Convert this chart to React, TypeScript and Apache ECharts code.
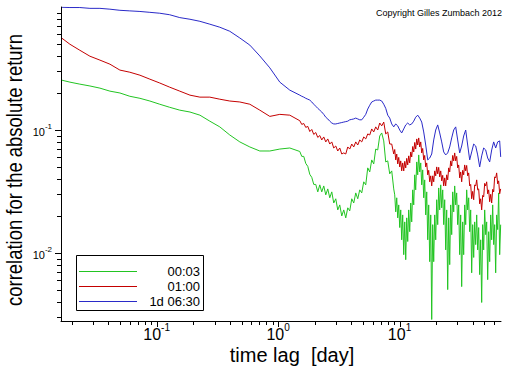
import React, { useEffect, useRef } from 'react';
import * as echarts from 'echarts';

// time lag [day]
const LAGS_COARSE = [
  0.0166, 0.0193, 0.0233, 0.0282, 0.0341, 0.0412, 0.0498, 0.0601, 0.0728, 0.0879,
  0.106, 0.128, 0.155, 0.188, 0.227, 0.274, 0.331, 0.4, 0.484, 0.585,
  0.707, 0.855, 1.033, 1.248,
];
const LAGS_FINE = [
  1.509, 1.567, 1.627, 1.69, 1.756, 1.824, 1.894, 1.967, 2.043, 2.122,
  2.204, 2.289, 2.377, 2.47, 2.565, 2.664, 2.767, 2.873, 2.985, 3.1,
  3.22, 3.344, 3.473, 3.608, 3.747, 3.892, 4.042, 4.198, 4.36, 4.529,
  4.703, 4.885, 5.074, 5.27, 5.473, 5.685, 5.904, 6.132, 6.369, 6.615,
  6.871, 7.136, 7.413, 7.699, 7.997, 8.305, 8.627, 8.96, 9.305, 9.665,
  10.04, 10.42, 10.83, 11.25, 11.68, 12.13, 12.6, 13.09, 13.59, 14.12,
  14.67, 15.23, 15.82, 16.43, 17.07, 17.73, 18.41, 19.12, 19.86, 20.63,
  21.43, 22.25, 23.11, 24.0, 24.93, 25.9, 26.89, 27.93, 29.01, 30.13,
  31.3, 32.5, 33.76, 35.07, 36.42, 37.83, 39.29, 40.81, 42.39, 44.02,
  45.72, 47.49, 49.32, 51.23, 53.21, 55.26, 57.4, 59.62, 61.92, 64.31,
  66.8, 68.1,
];
// denser sampling of the noisy tail (lag > 9 days)
const LAGS_DENSE = [
  9.13, 9.305, 9.484, 9.665, 9.85, 10.04, 10.23, 10.42, 10.62, 10.83,
  11.04, 11.25, 11.46, 11.68, 11.9, 12.13, 12.37, 12.6, 12.84, 13.09,
  13.34, 13.59, 13.86, 14.12, 14.39, 14.67, 14.95, 15.23, 15.52, 15.82,
  16.12, 16.43, 16.75, 17.07, 17.39, 17.73, 18.07, 18.41, 18.76, 19.12,
  19.49, 19.86, 20.24, 20.63, 21.02, 21.43, 21.84, 22.25, 22.68, 23.11,
  23.55, 24.0, 24.46, 24.93, 25.41, 25.9, 26.39, 26.89, 27.41, 27.93,
  28.46, 29.01, 29.56, 30.13, 30.71, 31.3, 31.89, 32.5, 33.12, 33.76,
  34.4, 35.07, 35.73, 36.42, 37.12, 37.83, 38.55, 39.29, 40.04, 40.81,
  41.59, 42.39, 43.2, 44.02, 44.86, 45.72, 46.6, 47.49, 48.4, 49.32,
  50.27, 51.23, 52.21, 53.21, 54.22, 55.26, 56.32, 57.4, 58.5, 59.62,
  60.75, 61.92, 63.1, 64.31, 65.54, 66.8, 68.07,
];
const LAGS_BLUE = LAGS_COARSE.concat(LAGS_FINE);
const LAGS_NOISY = LAGS_COARSE.concat(LAGS_FINE.slice(0, 48), LAGS_DENSE);

// correlation for the absolute return, series "00:03" (green)
const CORR_0003 = [
  0.254, 0.245, 0.236, 0.228, 0.219, 0.207, 0.2, 0.188, 0.181, 0.172,
  0.162, 0.153, 0.145, 0.14, 0.132, 0.118, 0.106, 0.0911, 0.08, 0.0728,
  0.0675, 0.0675, 0.07, 0.0714,
  0.0669, 0.061, 0.061, 0.0535, 0.0506, 0.0436, 0.0412, 0.0361, 0.0361, 0.0314,
  0.0358, 0.0314, 0.0351, 0.0297, 0.0332, 0.0281, 0.0314, 0.0255, 0.0276, 0.0224,
  0.0246, 0.02, 0.0224, 0.0193, 0.0233, 0.022, 0.0276, 0.0255, 0.0308, 0.0276,
  0.0326, 0.0308, 0.0379, 0.0358, 0.0492, 0.0456, 0.0571, 0.053, 0.07, 0.0688,
  0.0894, 0.0946, 0.0815, 0.055, 0.0561, 0.044, 0.0465, 0.0332,
  0.0297, 0.0216, 0.0281, 0.0193, 0.0246, 0.0161, 0.0224, 0.0128, 0.0204, 0.00969,
  0.0179, 0.00882, 0.0193, 0.0124, 0.0224, 0.0149, 0.0255, 0.0179, 0.0326, 0.0246,
  0.0432, 0.0326, 0.055, 0.0432, 0.0627, 0.0456, 0.054, 0.0358, 0.0474, 0.0281,
  0.0393, 0.0204, 0.0314, 0.0128, 0.0246, 0.0085, 0.0204, 0.00288, 0.017, 0.0085,
  0.0204, 0.0128, 0.0271, 0.017, 0.0338, 0.0224, 0.0358, 0.0233, 0.0326, 0.017,
  0.0271, 0.0106, 0.0224, 0.00504, 0.0193, 0.00804, 0.0246, 0.0141, 0.0314, 0.0216,
  0.0351, 0.0246, 0.0308, 0.017, 0.0246, 0.00969, 0.0204, 0.00533, 0.0179, 0.00969,
  0.0246, 0.017, 0.0326, 0.0224, 0.0281, 0.0149, 0.0224, 0.0069, 0.017, 0.0092,
  0.0179, 0.0117, 0.0204, 0.0106, 0.0161, 0.00667, 0.0128, 0.00396, 0.017, 0.0106,
  0.0224, 0.0141, 0.0179, 0.00607, 0.0149, 0.0085, 0.0204, 0.0128, 0.0246, 0.0117,
  0.017, 0.0069, 0.0204, 0.0155, 0.0308, 0.00969, 0.017,
];

// series "01:00" (red)
const CORR_0100 = [
  0.557, 0.498, 0.445, 0.398, 0.37, 0.343, 0.307, 0.295, 0.279, 0.259,
  0.241, 0.223, 0.207, 0.192, 0.185, 0.185, 0.178, 0.172, 0.169, 0.162,
  0.145, 0.129, 0.134, 0.132,
  0.119, 0.111, 0.113, 0.105, 0.107, 0.0972, 0.101, 0.092, 0.0954, 0.087,
  0.0902, 0.083, 0.0878, 0.08, 0.0846, 0.0769, 0.08, 0.0714, 0.0741, 0.0675,
  0.0714, 0.0638, 0.0651, 0.0638, 0.0728, 0.07, 0.0769, 0.0728, 0.08, 0.0755,
  0.083, 0.08, 0.0878, 0.0846, 0.0929, 0.0911, 0.102, 0.0964, 0.106, 0.1,
  0.114, 0.108, 0.116, 0.0929, 0.0964, 0.0769, 0.0769, 0.0638,
  0.0694, 0.0571, 0.0638, 0.053, 0.0599, 0.0501, 0.0561, 0.0465, 0.054, 0.0465,
  0.0556, 0.0492, 0.0588, 0.052, 0.0616, 0.054, 0.0663, 0.0604, 0.0734, 0.0663,
  0.0792, 0.07, 0.0846, 0.0755, 0.0862, 0.0728, 0.08, 0.0651, 0.0708, 0.0571,
  0.0621, 0.0501, 0.054, 0.0432, 0.047, 0.0379, 0.0424, 0.0351, 0.0424, 0.0379,
  0.0465, 0.0424, 0.0501, 0.044, 0.0497, 0.0416, 0.0465, 0.0386, 0.0428, 0.0351,
  0.0408, 0.0351, 0.0432, 0.0393, 0.0492, 0.0456, 0.0561, 0.051, 0.0621, 0.0561,
  0.0651, 0.0561, 0.061, 0.0492, 0.052, 0.0408, 0.0456, 0.0379, 0.047, 0.0432,
  0.052, 0.0465, 0.0515, 0.0424, 0.0448, 0.0351, 0.0361, 0.0276, 0.0317, 0.0271,
  0.0358, 0.0351, 0.0393, 0.0326, 0.0332, 0.0251, 0.0276, 0.0224, 0.0294, 0.0286,
  0.0368, 0.0351, 0.0379, 0.0303, 0.0326, 0.0261, 0.03, 0.0255, 0.0329, 0.0314,
  0.0416, 0.0408, 0.0448, 0.0365, 0.0386, 0.0303, 0.0332,
];

// series "1d 06:30" (blue)
const CORR_1D0630 = [
  0.995, 0.99, 0.99, 0.975, 0.975, 0.96, 0.94, 0.93, 0.92, 0.905,
  0.89, 0.865, 0.82, 0.795, 0.765, 0.725, 0.685, 0.635, 0.56, 0.49,
  0.4, 0.32, 0.245, 0.211,
  0.192, 0.188, 0.185, 0.181, 0.178, 0.175, 0.169, 0.162, 0.156, 0.15,
  0.145, 0.14, 0.134, 0.127, 0.123, 0.118, 0.114, 0.112, 0.112, 0.113,
  0.114, 0.115, 0.116, 0.117, 0.118, 0.121, 0.122, 0.123, 0.125, 0.123,
  0.121, 0.121, 0.127, 0.134, 0.148, 0.159, 0.169, 0.172, 0.175, 0.175,
  0.175, 0.172, 0.162, 0.15, 0.132, 0.125, 0.112, 0.106, 0.112, 0.108,
  0.1, 0.0946, 0.102, 0.11, 0.114, 0.11, 0.112, 0.118, 0.127, 0.132,
  0.125, 0.116, 0.0964, 0.0755, 0.0571, 0.0592, 0.0638, 0.083, 0.1, 0.11,
  0.0946, 0.08, 0.0663, 0.0627, 0.0651, 0.0728, 0.0862, 0.1, 0.106, 0.083,
  0.0651, 0.0741, 0.0894, 0.1, 0.0755, 0.0571, 0.0663, 0.0769, 0.0741, 0.0627,
  0.0501, 0.0616, 0.0714, 0.0688, 0.0592, 0.055, 0.0688, 0.08, 0.0714, 0.08,
  0.0815, 0.0604,
];

const SERIES_NAMES = ['00:03', '01:00', '1d 06:30'];
const SERIES_COLORS = ['#22c422', '#c40000', '#2a2ac8'];

const X_MIN = 0.0163;
const X_MAX = 68.5;
const Y_MIN = 0.0028;
const Y_MAX = 1.0;
const X_MAJOR_TICKS = [0.1, 1, 10];
const X_MINOR_TICKS = [
  0.02, 0.03, 0.04, 0.05, 0.06, 0.07, 0.08, 0.09,
  0.2, 0.3, 0.4, 0.5, 0.6, 0.7, 0.8, 0.9,
  2, 3, 4, 5, 6, 7, 8, 9,
  20, 30, 40, 50, 60,
];
const Y_MAJOR_TICKS = [0.01, 0.1];
const Y_MINOR_TICKS = [
  0.003, 0.004, 0.005, 0.006, 0.007, 0.008, 0.009,
  0.02, 0.03, 0.04, 0.05, 0.06, 0.07, 0.08, 0.09,
  0.2, 0.3, 0.4, 0.5, 0.6, 0.7, 0.8, 0.9,
];

const FONT = '"Liberation Sans", Arial, Helvetica, sans-serif';

function decadeLabel(v: number): string {
  const l = Math.log10(v);
  const e = Math.round(l);
  if (Math.abs(l - e) > 1e-6) return '';
  return '{b|10}{s|' + e + '}';
}

function buildOption(): any {
  const mk = (lags: number[], vals: number[]) => lags.map((l, i) => [l, vals[i]]);
  const xTickData = X_MINOR_TICKS.map((v) => [v, Y_MIN, 4]).concat(
    X_MAJOR_TICKS.map((v) => [v, Y_MIN, 6])
  );
  const yTickData = Y_MINOR_TICKS.map((v) => [X_MIN, v, 4]).concat(
    Y_MAJOR_TICKS.map((v) => [X_MIN, v, 6])
  );
  const seriesData = [
    mk(LAGS_NOISY, CORR_0003),
    mk(LAGS_NOISY, CORR_0100),
    mk(LAGS_BLUE, CORR_1D0630),
  ];
  const lineSeries = seriesData.map((data, i) => ({
    type: 'line',
    name: SERIES_NAMES[i],
    data,
    showSymbol: false,
    symbol: 'none',
    silent: true,
    z: 2 + i,
    lineStyle: { width: 1, color: SERIES_COLORS[i] },
    itemStyle: { color: SERIES_COLORS[i] },
  }));

  const legendItems: any[] = [
    {
      type: 'rect',
      shape: { x: 76.5, y: 255.5, width: 127, height: 55 },
      style: { fill: '#fff', stroke: '#000', lineWidth: 1 },
      z: 100,
    },
  ];
  SERIES_NAMES.forEach((name, i) => {
    const y = 271.5 + i * 15;
    legendItems.push({
      type: 'line',
      shape: { x1: 79, y1: y, x2: 137, y2: y },
      style: { stroke: SERIES_COLORS[i], lineWidth: 1 },
      z: 101,
    });
    legendItems.push({
      type: 'text',
      x: 200,
      y: y,
      style: {
        text: name,
        fontSize: 13,
        fontFamily: FONT,
        fill: '#000',
        align: 'right',
        verticalAlign: 'middle',
      },
      z: 101,
    });
  });

  return {
    animation: false,
    backgroundColor: '#ffffff',
    grid: { left: 61, right: 11, top: 7, bottom: 45, containLabel: false },
    xAxis: {
      type: 'log',
      logBase: 10,
      min: X_MIN,
      max: X_MAX,
      axisLine: { show: true, onZero: false, lineStyle: { color: '#000', width: 1 } },
      axisTick: { show: false },
      splitLine: { show: false },
      axisLabel: {
        margin: 1,
        color: '#000',
        formatter: decadeLabel,
        showMinLabel: false,
        showMaxLabel: false,
        rich: {
          b: { fontSize: 16, fontFamily: FONT, color: '#000', padding: [4, 0, 0, 0] },
          s: { fontSize: 10, fontFamily: FONT, color: '#000', verticalAlign: 'top' },
        },
      },
    },
    yAxis: {
      type: 'log',
      logBase: 10,
      min: Y_MIN,
      max: Y_MAX,
      axisLine: { show: true, onZero: false, lineStyle: { color: '#000', width: 1 } },
      axisTick: { show: false },
      splitLine: { show: false },
      axisLabel: {
        margin: 9,
        color: '#000',
        formatter: decadeLabel,
        showMinLabel: false,
        showMaxLabel: false,
        rich: {
          b: { fontSize: 11, fontFamily: FONT, color: '#000', padding: [4, 0, 0, 0] },
          s: { fontSize: 8, fontFamily: FONT, color: '#000', verticalAlign: 'top' },
        },
      },
    },
    series: [
      ...lineSeries,
      {
        type: 'custom',
        coordinateSystem: 'cartesian2d',
        clip: false,
        silent: true,
        data: xTickData,
        renderItem: (params: any, api: any) => {
          const p = api.coord([api.value(0), api.value(1)]);
          const x = Math.round(p[0]) + 0.5;
          return {
            type: 'line',
            shape: { x1: x, y1: p[1], x2: x, y2: p[1] + api.value(2) },
            style: { stroke: '#000', lineWidth: 1 },
          };
        },
      },
      {
        type: 'custom',
        coordinateSystem: 'cartesian2d',
        clip: false,
        silent: true,
        data: yTickData,
        renderItem: (params: any, api: any) => {
          const p = api.coord([api.value(0), api.value(1)]);
          const y = Math.round(p[1]) + 0.5;
          return {
            type: 'line',
            shape: { x1: p[0], y1: y, x2: p[0] - api.value(2), y2: y },
            style: { stroke: '#000', lineWidth: 1 },
          };
        },
      },
    ],
    graphic: [
      {
        type: 'text',
        x: 292,
        y: 355,
        style: {
          text: 'time lag  [day]',
          fontSize: 20,
          fontFamily: FONT,
          fill: '#000',
          align: 'center',
          verticalAlign: 'middle',
        },
      },
      {
        type: 'text',
        x: 14,
        y: 170,
        rotation: Math.PI / 2,
        scaleX: 0.84,
        style: {
          text: 'correlation for the absolute return',
          fontSize: 22,
          fontFamily: FONT,
          fill: '#000',
          align: 'center',
          verticalAlign: 'middle',
        },
      },
      {
        type: 'text',
        x: 502,
        y: 13,
        style: {
          text: 'Copyright Gilles Zumbach 2012',
          fontSize: 9,
          fontFamily: FONT,
          fill: '#000',
          align: 'right',
          verticalAlign: 'middle',
        },
      },
      ...legendItems,
    ],
  };
}

export default function App() {
  const ref = useRef<HTMLDivElement>(null);
  useEffect(() => {
    if (!ref.current) return;
    const chart = echarts.init(ref.current, null, { renderer: 'svg' });
    chart.setOption(buildOption());
    return () => {
      chart.dispose();
    };
  }, []);
  return (
    <div
      ref={ref}
      style={{ position: 'absolute', left: 0, top: 0, width: 512, height: 366, background: '#fff' }}
    />
  );
}
